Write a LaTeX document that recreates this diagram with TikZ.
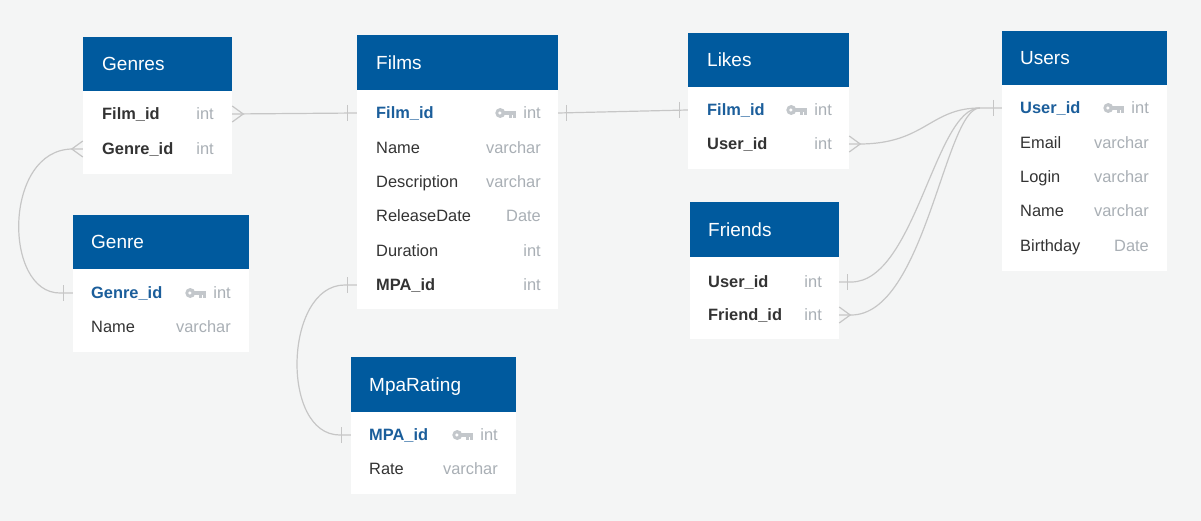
\documentclass[tikz,border=0pt]{standalone}
\usepackage{fontspec}
\setmainfont{Liberation Sans}
\usetikzlibrary{fit,calc}
\definecolor{bg}{HTML}{F4F5F5}
\definecolor{hdr}{HTML}{005A9E}
\definecolor{pkc}{HTML}{1B5E9B}
\definecolor{txt}{HTML}{333333}
\definecolor{tyc}{HTML}{A9AFB5}
\definecolor{ln}{HTML}{C6C6C6}
\definecolor{keyc}{HTML}{C3C7CB}
\begin{document}
\begin{tikzpicture}[x=1pt,y=-1pt,
 hbox/.style={fill=hdr, inner sep=0pt, draw=none},
 bbox/.style={fill=white, inner sep=0pt, draw=none},
 title/.style={anchor=west, text=white, font=\fontsize{19}{19}\selectfont, inner sep=0pt, text height=13.6pt, text depth=0pt},
 fld/.style={anchor=west, text=txt, font=\fontsize{16.4}{16}\selectfont, inner sep=0pt, text height=11.7pt, text depth=0pt},
 fkf/.style={fld, font=\fontsize{16.4}{16}\selectfont\bfseries},
 pkf/.style={fkf, text=pkc},
 typ/.style={anchor=east, text=tyc, font=\fontsize{16.4}{16}\selectfont, inner sep=0pt, text height=11.7pt, text depth=0pt},
 rel/.style={draw=ln, line width=1.2pt},
 key/.pic={
   \fill[keyc] (5,0) circle[radius=5];
   \fill[white] (4.6,0) circle[radius=1.7];
   \fill[keyc] (8,-2.4) rectangle (21,1.6);
   \fill[keyc] (13.5,1.6) rectangle (16.3,4.6);
   \fill[keyc] (18.2,1.6) rectangle (21,4.6);
 }
]
\fill[bg] (0,0) rectangle (1201,521);
\useasboundingbox (0,0) rectangle (1201,521);

% ---------- Genres
\node[bbox, fit={(83,91) (232,174)}] (genres-b) {};
\node[hbox, fit={(83,37) (232,91)}] (genres-h) {};
\node[title] (genres-t) at (102,64) {Genres};
\node[fkf] (genres-film) at (102,114) {Film\_id};
\node[typ] (genres-film-t) at (214,114) {int};
\node[fkf] (genres-genre) at (102,149) {Genre\_id};
\node[typ] (genres-genre-t) at (214,149) {int};

% ---------- Genre
\node[bbox, fit={(73,269) (249,352)}] (genre-b) {};
\node[hbox, fit={(73,215) (249,269)}] (genre-h) {};
\node[title] (genre-t) at (91,242) {Genre};
\node[pkf] (genre-id) at (91,293) {Genre\_id};
\node[typ] (genre-id-t) at (231,293) {int};
\pic at ($(genre-id-t.west)+(-28,0)$) {key};
\node[fld] (genre-name) at (91,327) {Name};
\node[typ] (genre-name-t) at (231,327) {varchar};

% ---------- Films
\node[bbox, fit={(357,90) (558,309)}] (films-b) {};
\node[hbox, fit={(357,35) (558,90)}] (films-h) {};
\node[title] (films-t) at (376,63) {Films};
\node[pkf] (films-film) at (376,113) {Film\_id};
\node[typ] (films-film-t) at (541,113) {int};
\pic at ($(films-film-t.west)+(-28,0)$) {key};
\node[fld] (films-name) at (376,148) {Name};
\node[typ] (films-name-t) at (541,148) {varchar};
\node[fld] (films-desc) at (376,182) {Description};
\node[typ] (films-desc-t) at (541,182) {varchar};
\node[fld] (films-rel) at (376,216) {ReleaseDate};
\node[typ] (films-rel-t) at (541,216) {Date};
\node[fld] (films-dur) at (376,251) {Duration};
\node[typ] (films-dur-t) at (541,251) {int};
\node[fkf] (films-mpa) at (376,285) {MPA\_id};
\node[typ] (films-mpa-t) at (541,285) {int};

% ---------- MpaRating
\node[bbox, fit={(351,412) (516,494)}] (mpa-b) {};
\node[hbox, fit={(351,357) (516,412)}] (mpa-h) {};
\node[title] (mpa-t) at (369,385) {MpaRating};
\node[pkf] (mpa-id) at (369,435) {MPA\_id};
\node[typ] (mpa-id-t) at (498,435) {int};
\pic at ($(mpa-id-t.west)+(-28,0)$) {key};
\node[fld] (mpa-rate) at (369,469) {Rate};
\node[typ] (mpa-rate-t) at (498,469) {varchar};

% ---------- Likes
\node[bbox, fit={(688,87) (849,169)}] (likes-b) {};
\node[hbox, fit={(688,33) (849,87)}] (likes-h) {};
\node[title] (likes-t) at (707,60) {Likes};
\node[pkf] (likes-film) at (707,110) {Film\_id};
\node[typ] (likes-film-t) at (832,110) {int};
\pic at ($(likes-film-t.west)+(-28,0)$) {key};
\node[fkf] (likes-user) at (707,144) {User\_id};
\node[typ] (likes-user-t) at (832,144) {int};

% ---------- Friends
\node[bbox, fit={(690,257) (839,339)}] (friends-b) {};
\node[hbox, fit={(690,202) (839,257)}] (friends-h) {};
\node[title] (friends-t) at (708,230) {Friends};
\node[fkf] (friends-user) at (708,282) {User\_id};
\node[typ] (friends-user-t) at (822,282) {int};
\node[fkf] (friends-friend) at (708,315) {Friend\_id};
\node[typ] (friends-friend-t) at (822,315) {int};

% ---------- Users
\node[bbox, fit={(1002,85) (1167,271)}] (users-b) {};
\node[hbox, fit={(1002,31) (1167,85)}] (users-h) {};
\node[title] (users-t) at (1020,58) {Users};
\node[pkf] (users-id) at (1020,108) {User\_id};
\node[typ] (users-id-t) at (1149,108) {int};
\pic at ($(users-id-t.west)+(-28,0)$) {key};
\node[fld] (users-email) at (1020,143) {Email};
\node[typ] (users-email-t) at (1149,143) {varchar};
\node[fld] (users-login) at (1020,177) {Login};
\node[typ] (users-login-t) at (1149,177) {varchar};
\node[fld] (users-name) at (1020,211) {Name};
\node[typ] (users-name-t) at (1149,211) {varchar};
\node[fld] (users-bday) at (1020,246) {Birthday};
\node[typ] (users-bday-t) at (1149,246) {Date};

% ---------- anchor coordinates on table edges
\coordinate (c-gf) at (genres-b.east |- genres-film);
\coordinate (c-gg) at (genres-b.west |- genres-genre);
\coordinate (c-gi) at (genre-b.west |- genre-id);
\coordinate (c-ffl) at (films-b.west |- films-film);
\coordinate (c-ffr) at (films-b.east |- films-film);
\coordinate (c-fm) at (films-b.west |- films-mpa);
\coordinate (c-mi) at (mpa-b.west |- mpa-id);
\coordinate (c-lf) at (likes-b.west |- likes-film);
\coordinate (c-lu) at (likes-b.east |- likes-user);
\coordinate (c-fu) at (friends-b.east |- friends-user);
\coordinate (c-ff) at (friends-b.east |- friends-friend);
\coordinate (c-ui) at (users-b.west |- users-id);
\coordinate (c-uj) at ($(c-ui)+(-22,0)$);

% ---------- connectors
% Genres.Film_id  >--|  Films.Film_id
\draw[rel] (c-gf) -- (c-ffl);
\draw[rel] ($(c-gf)+(0,-8)$) -- ($(c-gf)+(11,0)$) -- ($(c-gf)+(0,8)$);
\draw[rel] ($(c-ffl)+(-9,-8)$) -- ($(c-ffl)+(-9,8)$);

% Genres.Genre_id >--| Genre.Genre_id
\draw[rel] (c-gg) -- ($(c-gg)+(-10,0)$) .. controls (3,149) and (3,293) .. ($(c-gi)+(-13,0)$) -- (c-gi);
\draw[rel] ($(c-gg)+(0,-8)$) -- ($(c-gg)+(-11,0)$) -- ($(c-gg)+(0,8)$);
\draw[rel] ($(c-gi)+(-9,-8)$) -- ($(c-gi)+(-9,8)$);

% Films.Film_id |--| Likes.Film_id
\draw[rel] (c-ffr) -- (c-lf);
\draw[rel] ($(c-ffr)+(8,-8)$) -- ($(c-ffr)+(8,8)$);
\draw[rel] ($(c-lf)+(-8,-8)$) -- ($(c-lf)+(-8,8)$);

% Films.MPA_id |--| MpaRating.MPA_id
\draw[rel] (c-fm) -- ($(c-fm)+(-12,0)$) .. controls (284,285) and (280,435) .. ($(c-mi)+(-11,0)$) -- (c-mi);
\draw[rel] ($(c-fm)+(-9,-8)$) -- ($(c-fm)+(-9,8)$);
\draw[rel] ($(c-mi)+(-9,-8)$) -- ($(c-mi)+(-9,8)$);

% Likes.User_id >--| Users.User_id
\draw[rel] (c-lu) -- ($(c-lu)+(10,0)$) .. controls (925,144) and (930,108) .. (c-uj) -- (c-ui);
\draw[rel] ($(c-lu)+(0,-8)$) -- ($(c-lu)+(11,0)$) -- ($(c-lu)+(0,8)$);

% Friends.User_id |--| Users.User_id
\draw[rel] (c-fu) -- ($(c-fu)+(12,0)$) .. controls (915,282) and (935,108) .. (c-uj);
\draw[rel] ($(c-fu)+(8,-8)$) -- ($(c-fu)+(8,8)$);

% Friends.Friend_id >--| Users.User_id
\draw[rel] (c-ff) -- ($(c-ff)+(12,0)$) .. controls (925,315) and (945,108) .. (c-uj);
\draw[rel] ($(c-ff)+(0,-8)$) -- ($(c-ff)+(11,0)$) -- ($(c-ff)+(0,8)$);

% bar at Users.User_id
\draw[rel] ($(c-ui)+(-8,-8)$) -- ($(c-ui)+(-8,8)$);
\end{tikzpicture}
\end{document}
